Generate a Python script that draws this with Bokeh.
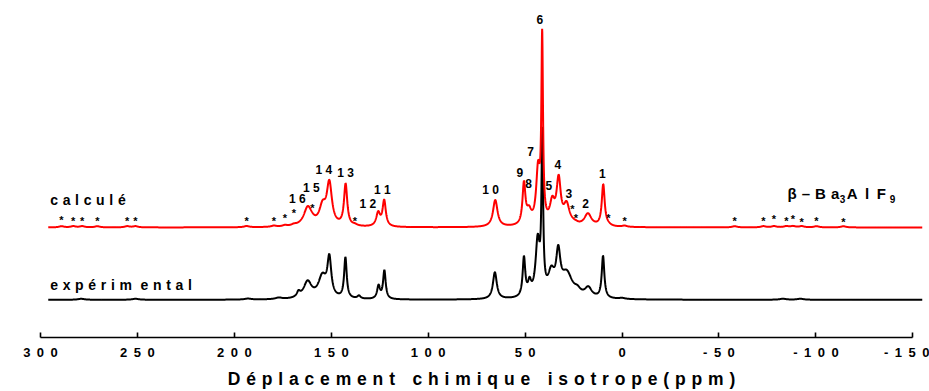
import numpy as np
from bokeh.plotting import figure
from bokeh.models import Range1d, FixedTicker
from bokeh.core.properties import value
from bokeh.embed import file_html
from bokeh.resources import INLINE

FONT = "Liberation Sans"

# ---- calculated spectrum (beta-Ba3AlF9): Lorentzian lines ----
calc_ppm = [162.1, 154.5, 151.0, 142.6, 125.8, 122.7, 65.4, 50.6, 48.0, 43.3,
            41.2, 36.0, 32.7, 28.6, 17.6, 9.7]
calc_amp = [19.0, 18.0, 42.0, 42.0, 13.5, 26.0, 27.0, 41.0, 12.6, 54.0,
            183.0, 21.0, 44.5, 20.0, 12.5, 42.0]
calc_hw = [2.5, 2.0, 1.6, 1.0, 1.2, 1.0, 1.4, 0.9, 1.5, 1.2,
           0.5, 1.5, 1.3, 1.8, 2.2, 0.9]
peak_names = ["16", "15", "14", "13", "12", "11", "10", "9", "8", "7",
              "6", "5", "4", "3", "2", "1"]

# spinning sidebands of the calculated spectrum (marked with *)
sb_ppm = [289.2, 283.1, 278.5, 270.7, 255.3, 251.0, 193.7, 179.6, 173.9,
          169.3, 159.8, 137.8, 25.6, 23.8, 7.1, -1.3, -58.1, -72.9, -78.4,
          -84.8, -88.2, -92.7, -100.3, -114.2]
sb_amp = [1.2] * len(sb_ppm)
sb_mark_h = [7.2, 7.0, 7.0, 7.0, 7.0, 7.0, 7.0, 7.0, 9.8, 14.8, 19.2, 6.5,
             18.2, 9.8, 9.8, 7.0, 6.8, 6.8, 8.2, 6.8, 8.5, 5.5, 6.8, 5.5]

# ---- experimental spectrum ----
exp_ppm = [177.1, 166.9, 162.2, 154.6, 151.0, 142.7, 135.7, 125.6, 122.6,
           65.6, 50.6, 47.7, 43.5, 41.15, 36.5, 32.9, 28.5, 23.0, 17.4, 9.8,
           279.0, 251.0, 193.0, 0.0, -83.0, -92.0]
exp_amp = [1.5, 5.0, 16.8, 21.5, 38.0, 41.0, 3.0, 13.0, 28.6,
           27.0, 39.3, 12.8, 55.0, 155.0, 22.0, 39.0, 24.0, 5.0, 9.8, 42.4,
           1.0, 1.0, 1.0, 1.0, 1.0, 1.0]
exp_hw = [2.0, 1.0, 2.5, 2.5, 1.2, 0.8, 1.0, 0.9, 0.8,
          1.2, 0.8, 1.0, 1.3, 0.5, 2.0, 1.3, 3.5, 2.0, 2.2, 0.8,
          2.0, 2.0, 2.0, 2.0, 2.0, 2.0]

# peak number label anchors (ppm, height above the calculated baseline)
label_ppm = [167.5, 160.3, 153.8, 142.6, 131.1, 123.7, 67.8, 52.7, 48.2, 47.2,
             42.4, 37.7, 33.1, 27.4, 18.8, 10.2]
label_h = [28.3, 40.0, 58.3, 54.7, 24.0, 38.3, 38.3, 55.7, 44.0, 76.3,
           210.0, 42.3, 64.0, 34.0, 24.0, 54.7]

ticks = [300, 250, 200, 150, 100, 50, 0, -50, -100, -150]

CALC_BASE = 111.0   # vertical offset of the calculated trace
EXP_BASE = 38.0     # vertical offset of the experimental trace

x = np.linspace(296.0, -155.0, 5000)


def lorentz_sum(centres, amps, widths):
    y = np.zeros_like(x)
    for c, a, w in zip(centres, amps, widths):
        y += a * w ** 2 / ((x - c) ** 2 + w ** 2)
    return y


calc_y = CALC_BASE + lorentz_sum(calc_ppm + sb_ppm, calc_amp + sb_amp,
                                 calc_hw + [1.5] * len(sb_ppm))
exp_y = EXP_BASE + lorentz_sum(exp_ppm, exp_amp, exp_hw)


def spaced(s, sep):
    return sep.join(list(s))


p = figure(width=929, height=391, x_range=Range1d(300, -155),
           y_range=Range1d(0, 340), output_backend="svg",
           toolbar_location=None, y_axis_location=None,
           min_border_left=40, min_border_right=7, min_border_top=0,
           min_border_bottom=51)
p.outline_line_color = None
p.xgrid.visible = False
p.ygrid.visible = False
p.background_fill_color = "white"
p.border_fill_color = "white"

ax = p.xaxis[0]
ax.bounds = (-150, 300)
ax.ticker = FixedTicker(ticks=ticks)
ax.major_label_overrides = {t: spaced(str(t), "\u2002") for t in ticks}
ax.major_tick_in = 5
ax.major_tick_out = 0
ax.minor_tick_line_color = None
ax.axis_line_width = 1.6
ax.major_tick_line_width = 1.6
ax.axis_line_color = "black"
ax.major_tick_line_color = "black"
ax.major_label_text_font = FONT
ax.major_label_text_font_style = "bold"
ax.major_label_text_font_size = "13px"
ax.major_label_text_color = "black"
ax.major_label_standoff = 7
ax.axis_label = "\u2003".join(spaced(w, "\u2004") for w in
                              ["Déplacement", "chimique", "isotrope(ppm)"])
ax.axis_label_text_font = FONT
ax.axis_label_text_font_style = "bold"
ax.axis_label_text_font_size = "17.5px"
ax.axis_label_text_color = "black"
ax.axis_label_standoff = 6

# traces: experimental underneath, calculated on top
p.line(x, exp_y, line_color="black", line_width=2)
p.line(x, calc_y, line_color="#ff0000", line_width=2)

# peak numbers
p.text(label_ppm, [CALC_BASE + h for h in label_h],
       text=[spaced(n, " ") for n in peak_names],
       text_font=value(FONT), text_font_style="bold",
       text_font_size="12px", text_color="black",
       text_align="center", text_baseline="middle")

# sideband markers
p.text(sb_ppm, [CALC_BASE + h for h in sb_mark_h], text=["*"] * len(sb_ppm),
       text_font=value(FONT), text_font_style="bold",
       text_font_size="11px", text_color="black",
       text_align="center", text_baseline="middle")

# trace names
p.text([295.0], [CALC_BASE + 28.0], text=[spaced("calculé", "\u2004")],
       text_font=value(FONT), text_font_style="bold", text_font_size="14px",
       text_color="black", text_align="left", text_baseline="middle")
p.text([295.0], [EXP_BASE + 15.3],
       text=[spaced("expérim", "\u2004") + "\u2004 " + spaced("ental", "\u2004")],
       text_font=value(FONT), text_font_style="bold", text_font_size="14px",
       text_color="black", text_align="left", text_baseline="middle")

# compound name with subscripts
name_parts = [("β\u2004–\u2004B\u2004a", -85.4, 145.0, "15px"),
              ("3", -112.3, 140.0, "10px"),
              ("A\u2002l\u2002F", -115.9, 145.0, "15px"),
              ("9", -138.1, 140.0, "10px")]
for txt, px, py, fs in name_parts:
    p.text([px], [py], text=[txt],
           text_font=value(FONT), text_font_style="bold",
           text_font_size=fs, text_color="black",
           text_align="left", text_baseline="middle")

open("out.html", "w").write(file_html(p, INLINE))
